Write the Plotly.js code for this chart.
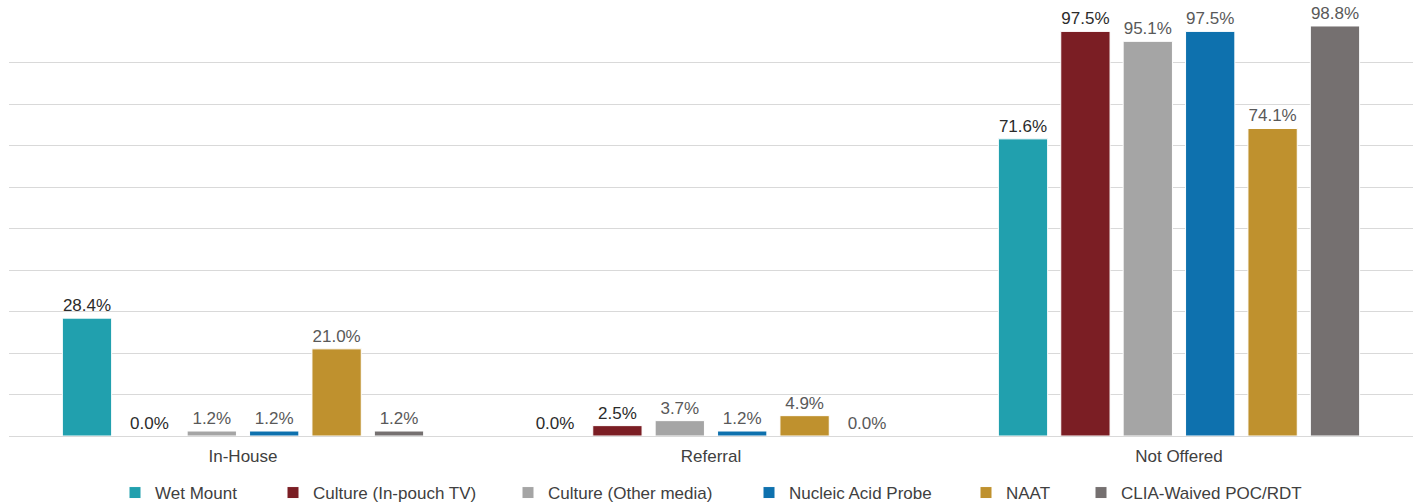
<!DOCTYPE html>
<html>
<head>
<meta charset="utf-8">
<script src="https://cdn.plot.ly/plotly-3.0.1.min.js"></script>
<style>
  html, body { margin: 0; padding: 0; background: #ffffff; }
  #chart { width: 1418px; height: 504px; }
</style>
</head>
<body>
<div id="chart"></div>
<script>
// Where each test is performed
const categories = ['In-House', 'Referral', 'Not Offered'];

// Share of labs (%) per test type
const wetMount        = [28.4, 0.0, 71.6];
const cultureInPouch  = [0.0, 2.5, 97.5];
const cultureOther    = [1.2, 3.7, 95.1];
const nucleicAcid     = [1.2, 1.2, 97.5];
const naat            = [21.0, 4.9, 74.1];
const cliaWaived      = [1.2, 0.0, 98.8];

const seriesNames = [
  'Wet Mount',
  'Culture (In-pouch TV)',
  'Culture (Other media)',
  'Nucleic Acid Probe',
  'NAAT',
  'CLIA-Waived POC/RDT'
];
const seriesValues = [wetMount, cultureInPouch, cultureOther, nucleicAcid, naat, cliaWaived];
const seriesColors = ['#21A0AE', '#7B1E24', '#A5A5A5', '#0E71AE', '#BF912E', '#757070'];
const labelColors  = ['#2b2b2b', '#2b2b2b', '#595959', '#595959', '#595959', '#595959'];

// Left pixel position of each legend entry's text along the bottom row
const legendTextLeft = [151, 309, 544, 785, 1002, 1117];

const FONT = '"Liberation Sans", Arial, sans-serif';
const W = 1418, H = 504;

const legendIds = ['legend', 'legend2', 'legend3', 'legend4', 'legend5', 'legend6'];

const traces = seriesNames.map((name, i) => ({
  type: 'bar',
  name: name,
  x: categories,
  y: seriesValues[i],
  marker: { color: seriesColors[i], line: { color: '#ffffff', width: 1 } },
  text: seriesValues[i].map(v => v.toFixed(1) + '%'),
  textposition: 'outside',
  texttemplate: '%{text}',
  outsidetextfont: { family: FONT, size: 17, color: labelColors[i] },
  constraintext: 'none',
  cliponaxis: false,
  hoverinfo: 'skip',
  legend: legendIds[i]
}));

const layout = {
  width: W,
  height: H,
  paper_bgcolor: '#ffffff',
  plot_bgcolor: '#ffffff',
  margin: { l: 9, r: 5, t: 21, b: 68 },
  barmode: 'group',
  bargap: 0.2,
  bargroupgap: 0.21,
  font: { family: FONT, size: 17, color: '#404040' },
  xaxis: {
    type: 'category',
    showgrid: false,
    showline: false,
    ticks: '',
    ticklabelstandoff: 8,
    tickfont: { family: FONT, size: 17, color: '#404040' },
    fixedrange: true
  },
  yaxis: {
    range: [0, 100],
    dtick: 10,
    showticklabels: false,
    showgrid: true,
    gridcolor: '#D9D9D9',
    gridwidth: 1,
    zeroline: true,
    zerolinecolor: '#D9D9D9',
    zerolinewidth: 1,
    showline: false,
    ticks: '',
    fixedrange: true
  },
  showlegend: true
};

// One single-entry legend per series so each entry sits at its own spot
legendIds.forEach((id, i) => {
  layout[id] = {
    orientation: 'h',
    xref: 'container',
    yref: 'container',
    x: (legendTextLeft[i] - 36) / W,
    xanchor: 'left',
    y: 1 - 493 / H,
    yanchor: 'middle',
    bgcolor: 'rgba(0,0,0,0)',
    borderwidth: 0,
    font: { family: FONT, size: 17, color: '#404040' }
  };
});

Plotly.newPlot('chart', traces, layout, { displayModeBar: false, staticPlot: true });
</script>
</body>
</html>
